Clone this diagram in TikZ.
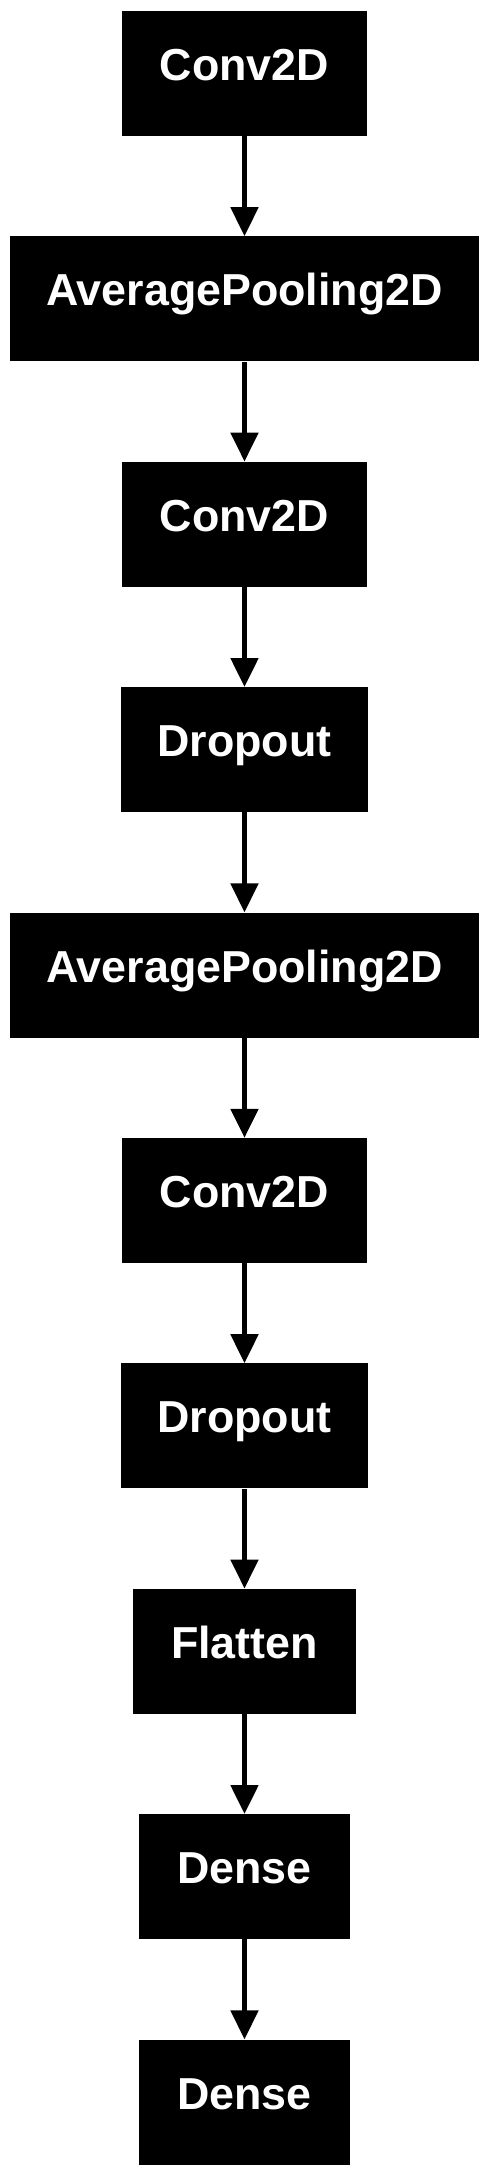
\documentclass[tikz,border=0pt]{standalone}
\usepackage{fontspec}
\setmainfont{Liberation Sans}
\usetikzlibrary{positioning,arrows.meta}
\tikzset{
  layer/.style={fill=black,text=white,minimum height=125pt,inner sep=0pt,
    font=\fontsize{44.8}{52}\selectfont\bfseries,text height=30pt,text depth=16pt},
  flow/.style={line width=5pt,-{Triangle[width=27pt,length=29pt]}}
}
\begin{document}
\begin{tikzpicture}[node distance=100pt]
\useasboundingbox (0,0) rectangle (489pt,-2172pt);
\node[layer,minimum width=244.5pt] (conva) at (244.5pt,-73.5pt) {Conv2D};
\node[layer,minimum width=469pt,below=of conva] (poola) {AveragePooling2D};
\node[layer,minimum width=244.5pt,below=of poola] (convb) {Conv2D};
\node[layer,minimum width=247.3pt,below=of convb] (dropa) {Dropout};
\node[layer,minimum width=469pt,below=of dropa] (poolb) {AveragePooling2D};
\node[layer,minimum width=244.5pt,below=of poolb] (convc) {Conv2D};
\node[layer,minimum width=247.3pt,below=of convc] (dropb) {Dropout};
\node[layer,minimum width=222.7pt,below=of dropb] (flat) {Flatten};
\node[layer,minimum width=210.7pt,below=of flat] (densea) {Dense};
\node[layer,minimum width=210.7pt,below=of densea] (denseb) {Dense};
\foreach \a/\b in {conva/poola,poola/convb,convb/dropa,dropa/poolb,poolb/convc,
  convc/dropb,dropb/flat,flat/densea,densea/denseb}
  \draw[flow] (\a) -- (\b);
\end{tikzpicture}
\end{document}
